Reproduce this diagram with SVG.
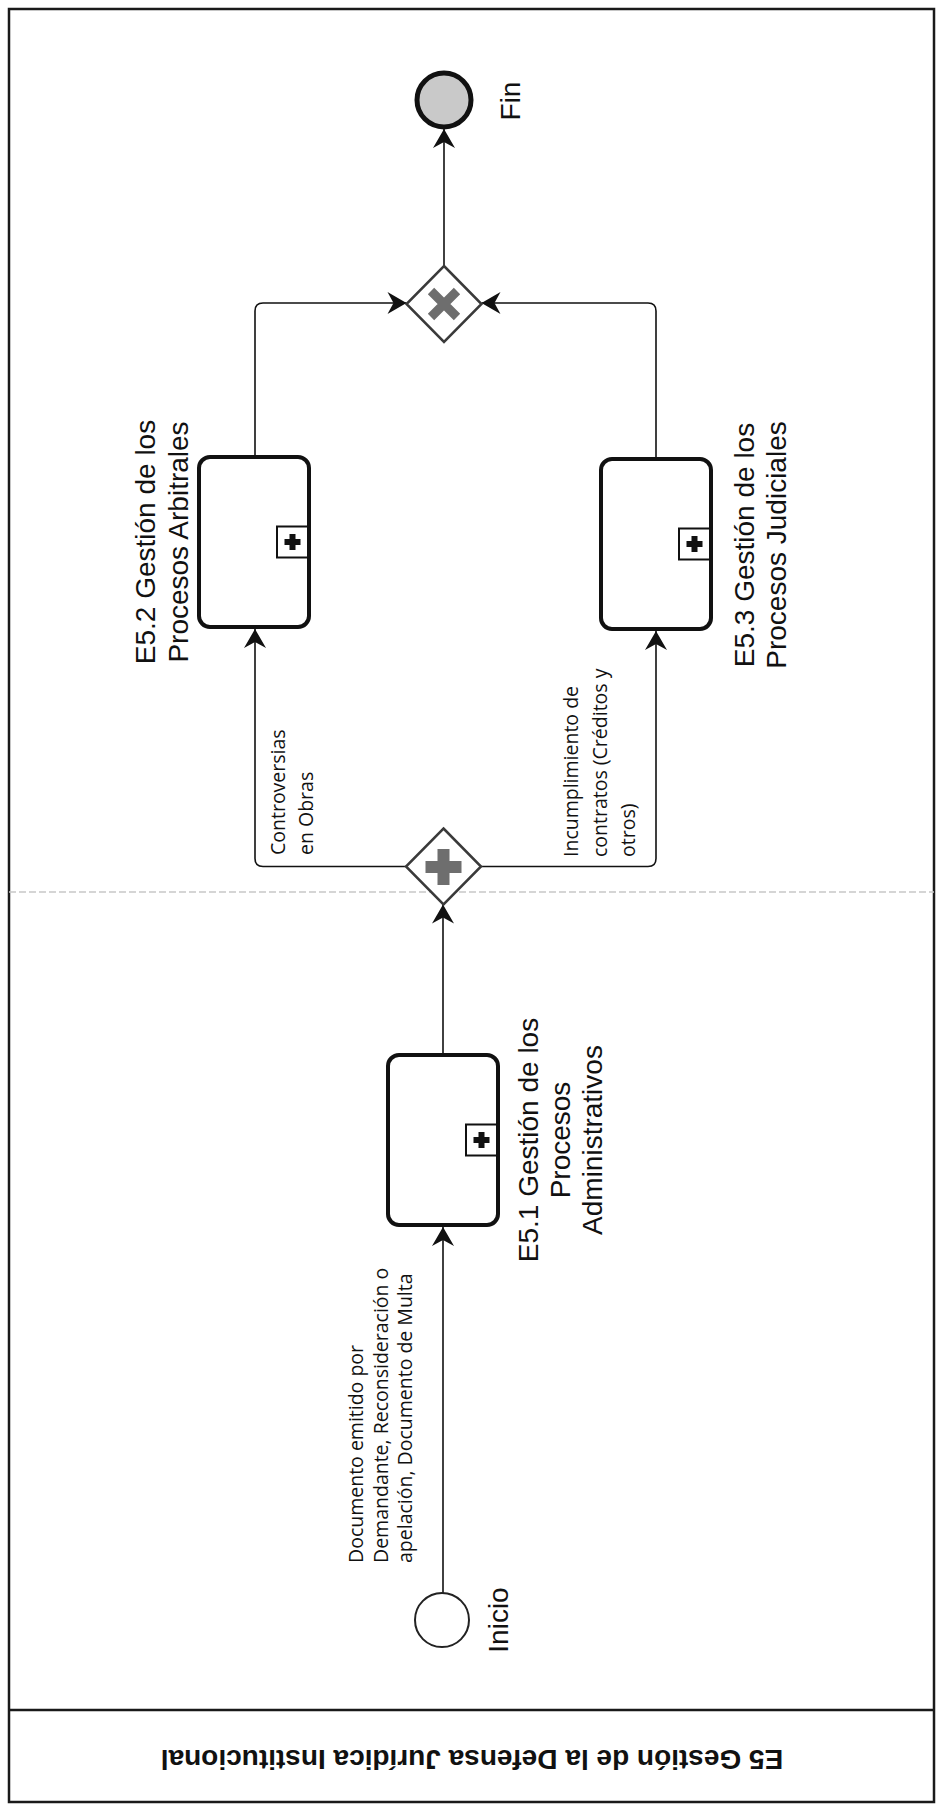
<svg xmlns="http://www.w3.org/2000/svg" width="938" height="1808" viewBox="0 0 938 1808">
<style>
.frame{fill:#ffffff;stroke:#1a1a1a;stroke-width:2.5}
.sep{stroke:#1a1a1a;stroke-width:2.5}
.lane{stroke:#c8c8c8;stroke-width:1.5;stroke-dasharray:7 3}
.task{fill:#ffffff;stroke:#111;stroke-width:4}
.mk{fill:#ffffff;stroke:#111;stroke-width:2}
.plus{fill:#111}
.gw{fill:#ffffff;stroke:#3a3a3a;stroke-width:2.5}
.gwm{fill:#6e6e6e}
.flow{fill:none;stroke:#111;stroke-width:1.6}
.lbl{font-family:"Liberation Sans",Arial,sans-serif;font-size:28px;fill:#111}
.sm{font-family:"Open Sans","Liberation Sans",sans-serif;font-size:19.5px;fill:#111}
.title{font-family:"Liberation Sans",Arial,sans-serif;font-size:28px;font-weight:bold;fill:#111}
</style>
<defs>
<marker id="arr" markerUnits="userSpaceOnUse" markerWidth="24" markerHeight="24" viewBox="-20 -12 24 24" refX="0" refY="0" orient="auto" overflow="visible">
<path d="M0,0 L-19,-11 L-13,0 L-19,11 Z" fill="#111"/>
</marker>
</defs>
<rect width="938" height="1808" fill="#ffffff"/>
<rect class="frame" x="9" y="9" width="925" height="1793"/>
<line class="sep" x1="9" y1="1710" x2="934" y2="1710"/>
<line class="lane" x1="9" y1="892" x2="934" y2="892"/>
<text class="title" transform="translate(472,1750) rotate(180)" text-anchor="middle">E5 Gestión de la Defensa Jurídica Institucional</text>

<g id="connectors">
<path class="flow" d="M443,1593 L443,1227" marker-end="url(#arr)"/>
<path class="flow" d="M443,1053 L443,904.5" marker-end="url(#arr)"/>
<path class="flow" d="M406,866.5 L263,866.5 Q255,866.5 255,858.5 L255,629" marker-end="url(#arr)"/>
<path class="flow" d="M481,866.5 L648,866.5 Q656,866.5 656,858.5 L656,631" marker-end="url(#arr)"/>
<path class="flow" d="M255,455 L255,311 Q255,303 263,303 L406.5,303" marker-end="url(#arr)"/>
<path class="flow" d="M656,457 L656,311 Q656,303 648,303 L481.5,303" marker-end="url(#arr)"/>
<path class="flow" d="M444,266 L444,129" marker-end="url(#arr)"/>
</g>

<g id="label-doc">
<text class="sm" transform="translate(363,1563) rotate(-90)"><tspan x="0" y="0">Documento emitido por</tspan><tspan x="0" y="24.5">Demandante, Reconsideración o</tspan><tspan x="0" y="49">apelación, Documento de Multa</tspan></text>
</g>
<g id="label-obras">
<text class="sm" transform="translate(285,855) rotate(-90)"><tspan x="0" y="0">Controversias</tspan><tspan x="0" y="28">en Obras</tspan></text>
</g>
<g id="label-contratos">
<text class="sm" transform="translate(578,857) rotate(-90)"><tspan x="0" y="0">Incumplimiento de</tspan><tspan x="0" y="28.5">contratos (Créditos y</tspan><tspan x="0" y="57">otros)</tspan></text>
</g>

<g id="inicio">
<circle cx="442" cy="1620" r="27" fill="#ffffff" stroke="#222" stroke-width="2"/>
<text class="lbl" transform="translate(508,1620) rotate(-90)" text-anchor="middle">Inicio</text>
</g>

<g id="e51">
<rect class="task" x="388" y="1055" width="110" height="170" rx="11"/>
<rect class="mk" x="466" y="1124.5" width="31" height="31"/>
<rect class="plus" x="473.5" y="1137" width="16" height="6"/>
<rect class="plus" x="478.5" y="1132" width="6" height="16"/>
<text class="lbl" transform="translate(538,1140) rotate(-90)" text-anchor="middle"><tspan x="0" y="0">E5.1 Gestión de los</tspan><tspan x="0" y="32">Procesos</tspan><tspan x="0" y="64">Administrativos</tspan></text>
</g>

<g id="and-gateway">
<polygon class="gw" points="443.5,828.5 481,866.5 443.5,904.5 406,866.5"/>
<rect class="gwm" x="437.5" y="849" width="12" height="36"/>
<rect class="gwm" x="425.5" y="861" width="36" height="12"/>
</g>

<g id="e52">
<rect class="task" x="199" y="457" width="110" height="170" rx="11"/>
<rect class="mk" x="277" y="526.5" width="31" height="31"/>
<rect class="plus" x="284.5" y="539" width="16" height="6"/>
<rect class="plus" x="289.5" y="534" width="6" height="16"/>
<text class="lbl" transform="translate(155,542) rotate(-90)" text-anchor="middle"><tspan x="0" y="0">E5.2 Gestión de los</tspan><tspan x="0" y="33">Procesos Arbitrales</tspan></text>
</g>

<g id="e53">
<rect class="task" x="601" y="459" width="110" height="170" rx="11"/>
<rect class="mk" x="679" y="528.5" width="31" height="31"/>
<rect class="plus" x="686.5" y="541" width="16" height="6"/>
<rect class="plus" x="691.5" y="536" width="6" height="16"/>
<text class="lbl" transform="translate(754,545) rotate(-90)" text-anchor="middle"><tspan x="0" y="0">E5.3 Gestión de los</tspan><tspan x="0" y="32">Procesos Judiciales</tspan></text>
</g>

<g id="xor-gateway">
<polygon class="gw" points="444,266 481.5,304 444,342 406.5,304"/>
<path d="M431,291 L457,317 M457,291 L431,317" stroke="#6e6e6e" stroke-width="9" fill="none"/>
</g>

<g id="fin">
<circle cx="444" cy="100" r="27" fill="#c9c9c9" stroke="#111" stroke-width="5"/>
<text class="lbl" transform="translate(520,101) rotate(-90)" text-anchor="middle">Fin</text>
</g>
</svg>
